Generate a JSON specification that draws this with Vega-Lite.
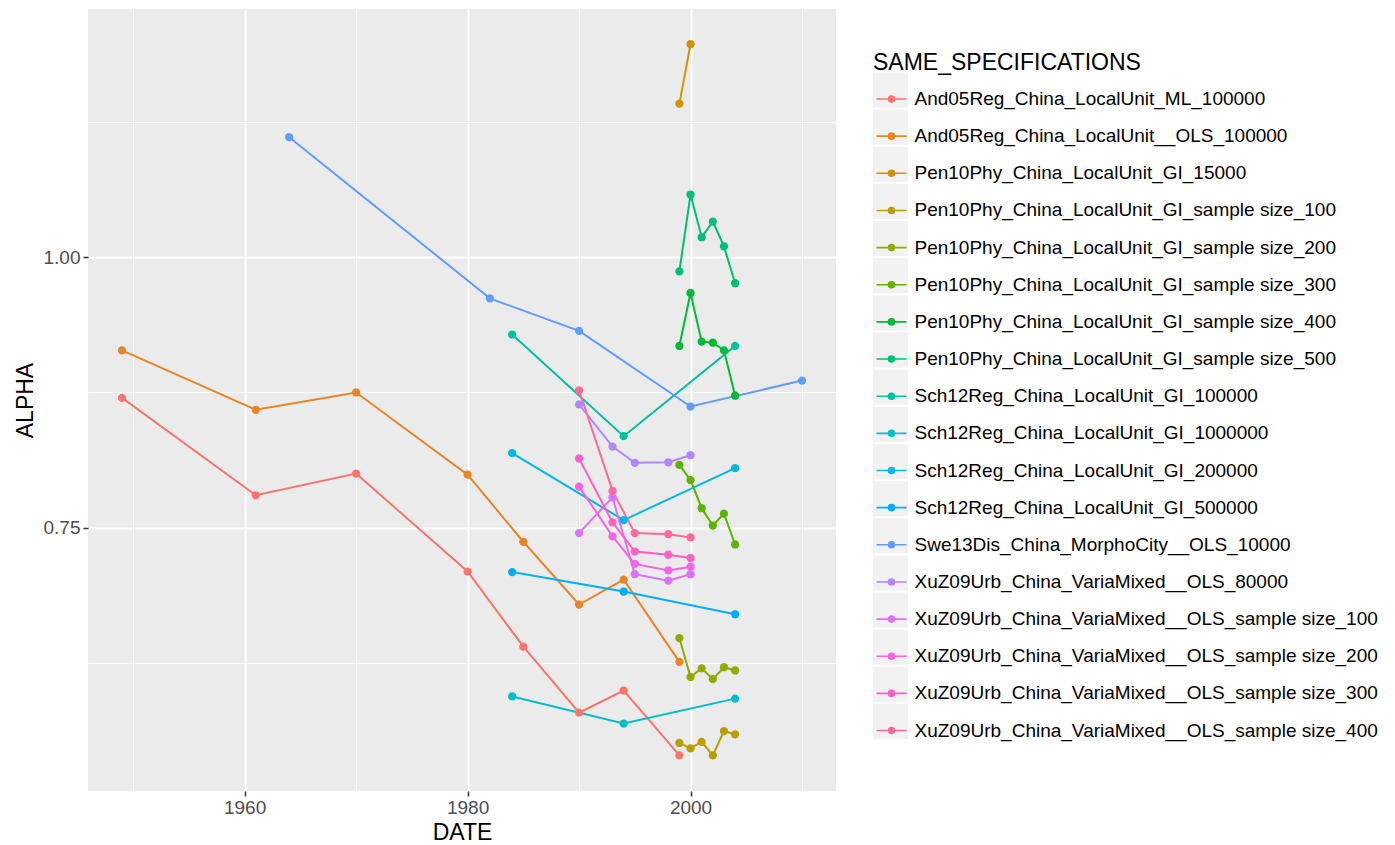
{
  "$schema": "https://vega.github.io/schema/vega-lite/v6.json",
  "width": 748,
  "height": 782,
  "autosize": {"type": "none"},
  "padding": {"left": 88, "top": 9, "right": 559, "bottom": 54},
  "background": "white",
  "config": {
    "font": "Liberation Sans",
    "view": {"fill": "#EBEBEB", "stroke": null}
  },
  "datasets": {
    "series": [
      {"SAME_SPECIFICATIONS": "And05Reg_China_LocalUnit_ML_100000", "DATE": 1949, "ALPHA": 0.870},
      {"SAME_SPECIFICATIONS": "And05Reg_China_LocalUnit_ML_100000", "DATE": 1961, "ALPHA": 0.780},
      {"SAME_SPECIFICATIONS": "And05Reg_China_LocalUnit_ML_100000", "DATE": 1970, "ALPHA": 0.800},
      {"SAME_SPECIFICATIONS": "And05Reg_China_LocalUnit_ML_100000", "DATE": 1980, "ALPHA": 0.7095},
      {"SAME_SPECIFICATIONS": "And05Reg_China_LocalUnit_ML_100000", "DATE": 1985, "ALPHA": 0.640},
      {"SAME_SPECIFICATIONS": "And05Reg_China_LocalUnit_ML_100000", "DATE": 1990, "ALPHA": 0.579},
      {"SAME_SPECIFICATIONS": "And05Reg_China_LocalUnit_ML_100000", "DATE": 1994, "ALPHA": 0.5995},
      {"SAME_SPECIFICATIONS": "And05Reg_China_LocalUnit_ML_100000", "DATE": 1999, "ALPHA": 0.5395},
      {"SAME_SPECIFICATIONS": "And05Reg_China_LocalUnit__OLS_100000", "DATE": 1949, "ALPHA": 0.914},
      {"SAME_SPECIFICATIONS": "And05Reg_China_LocalUnit__OLS_100000", "DATE": 1961, "ALPHA": 0.859},
      {"SAME_SPECIFICATIONS": "And05Reg_China_LocalUnit__OLS_100000", "DATE": 1970, "ALPHA": 0.875},
      {"SAME_SPECIFICATIONS": "And05Reg_China_LocalUnit__OLS_100000", "DATE": 1980, "ALPHA": 0.799},
      {"SAME_SPECIFICATIONS": "And05Reg_China_LocalUnit__OLS_100000", "DATE": 1985, "ALPHA": 0.737},
      {"SAME_SPECIFICATIONS": "And05Reg_China_LocalUnit__OLS_100000", "DATE": 1990, "ALPHA": 0.679},
      {"SAME_SPECIFICATIONS": "And05Reg_China_LocalUnit__OLS_100000", "DATE": 1994, "ALPHA": 0.702},
      {"SAME_SPECIFICATIONS": "And05Reg_China_LocalUnit__OLS_100000", "DATE": 1999, "ALPHA": 0.626},
      {"SAME_SPECIFICATIONS": "Pen10Phy_China_LocalUnit_GI_15000", "DATE": 1999, "ALPHA": 1.142},
      {"SAME_SPECIFICATIONS": "Pen10Phy_China_LocalUnit_GI_15000", "DATE": 2000, "ALPHA": 1.197},
      {"SAME_SPECIFICATIONS": "Pen10Phy_China_LocalUnit_GI_sample size_100", "DATE": 1999, "ALPHA": 0.551},
      {"SAME_SPECIFICATIONS": "Pen10Phy_China_LocalUnit_GI_sample size_100", "DATE": 2000, "ALPHA": 0.546},
      {"SAME_SPECIFICATIONS": "Pen10Phy_China_LocalUnit_GI_sample size_100", "DATE": 2001, "ALPHA": 0.552},
      {"SAME_SPECIFICATIONS": "Pen10Phy_China_LocalUnit_GI_sample size_100", "DATE": 2002, "ALPHA": 0.5395},
      {"SAME_SPECIFICATIONS": "Pen10Phy_China_LocalUnit_GI_sample size_100", "DATE": 2003, "ALPHA": 0.562},
      {"SAME_SPECIFICATIONS": "Pen10Phy_China_LocalUnit_GI_sample size_100", "DATE": 2004, "ALPHA": 0.559},
      {"SAME_SPECIFICATIONS": "Pen10Phy_China_LocalUnit_GI_sample size_200", "DATE": 1999, "ALPHA": 0.648},
      {"SAME_SPECIFICATIONS": "Pen10Phy_China_LocalUnit_GI_sample size_200", "DATE": 2000, "ALPHA": 0.612},
      {"SAME_SPECIFICATIONS": "Pen10Phy_China_LocalUnit_GI_sample size_200", "DATE": 2001, "ALPHA": 0.620},
      {"SAME_SPECIFICATIONS": "Pen10Phy_China_LocalUnit_GI_sample size_200", "DATE": 2002, "ALPHA": 0.610},
      {"SAME_SPECIFICATIONS": "Pen10Phy_China_LocalUnit_GI_sample size_200", "DATE": 2003, "ALPHA": 0.621},
      {"SAME_SPECIFICATIONS": "Pen10Phy_China_LocalUnit_GI_sample size_200", "DATE": 2004, "ALPHA": 0.618},
      {"SAME_SPECIFICATIONS": "Pen10Phy_China_LocalUnit_GI_sample size_300", "DATE": 1999, "ALPHA": 0.808},
      {"SAME_SPECIFICATIONS": "Pen10Phy_China_LocalUnit_GI_sample size_300", "DATE": 2000, "ALPHA": 0.794},
      {"SAME_SPECIFICATIONS": "Pen10Phy_China_LocalUnit_GI_sample size_300", "DATE": 2001, "ALPHA": 0.768},
      {"SAME_SPECIFICATIONS": "Pen10Phy_China_LocalUnit_GI_sample size_300", "DATE": 2002, "ALPHA": 0.752},
      {"SAME_SPECIFICATIONS": "Pen10Phy_China_LocalUnit_GI_sample size_300", "DATE": 2003, "ALPHA": 0.763},
      {"SAME_SPECIFICATIONS": "Pen10Phy_China_LocalUnit_GI_sample size_300", "DATE": 2004, "ALPHA": 0.7345},
      {"SAME_SPECIFICATIONS": "Pen10Phy_China_LocalUnit_GI_sample size_400", "DATE": 1999, "ALPHA": 0.918},
      {"SAME_SPECIFICATIONS": "Pen10Phy_China_LocalUnit_GI_sample size_400", "DATE": 2000, "ALPHA": 0.967},
      {"SAME_SPECIFICATIONS": "Pen10Phy_China_LocalUnit_GI_sample size_400", "DATE": 2001, "ALPHA": 0.922},
      {"SAME_SPECIFICATIONS": "Pen10Phy_China_LocalUnit_GI_sample size_400", "DATE": 2002, "ALPHA": 0.921},
      {"SAME_SPECIFICATIONS": "Pen10Phy_China_LocalUnit_GI_sample size_400", "DATE": 2003, "ALPHA": 0.914},
      {"SAME_SPECIFICATIONS": "Pen10Phy_China_LocalUnit_GI_sample size_400", "DATE": 2004, "ALPHA": 0.872},
      {"SAME_SPECIFICATIONS": "Pen10Phy_China_LocalUnit_GI_sample size_500", "DATE": 1999, "ALPHA": 0.987},
      {"SAME_SPECIFICATIONS": "Pen10Phy_China_LocalUnit_GI_sample size_500", "DATE": 2000, "ALPHA": 1.058},
      {"SAME_SPECIFICATIONS": "Pen10Phy_China_LocalUnit_GI_sample size_500", "DATE": 2001, "ALPHA": 1.0185},
      {"SAME_SPECIFICATIONS": "Pen10Phy_China_LocalUnit_GI_sample size_500", "DATE": 2002, "ALPHA": 1.033},
      {"SAME_SPECIFICATIONS": "Pen10Phy_China_LocalUnit_GI_sample size_500", "DATE": 2003, "ALPHA": 1.010},
      {"SAME_SPECIFICATIONS": "Pen10Phy_China_LocalUnit_GI_sample size_500", "DATE": 2004, "ALPHA": 0.976},
      {"SAME_SPECIFICATIONS": "Sch12Reg_China_LocalUnit_GI_100000", "DATE": 1984, "ALPHA": 0.9286},
      {"SAME_SPECIFICATIONS": "Sch12Reg_China_LocalUnit_GI_100000", "DATE": 1994, "ALPHA": 0.8346},
      {"SAME_SPECIFICATIONS": "Sch12Reg_China_LocalUnit_GI_100000", "DATE": 2004, "ALPHA": 0.918},
      {"SAME_SPECIFICATIONS": "Sch12Reg_China_LocalUnit_GI_1000000", "DATE": 1984, "ALPHA": 0.594},
      {"SAME_SPECIFICATIONS": "Sch12Reg_China_LocalUnit_GI_1000000", "DATE": 1994, "ALPHA": 0.569},
      {"SAME_SPECIFICATIONS": "Sch12Reg_China_LocalUnit_GI_1000000", "DATE": 2004, "ALPHA": 0.592},
      {"SAME_SPECIFICATIONS": "Sch12Reg_China_LocalUnit_GI_200000", "DATE": 1984, "ALPHA": 0.819},
      {"SAME_SPECIFICATIONS": "Sch12Reg_China_LocalUnit_GI_200000", "DATE": 1994, "ALPHA": 0.757},
      {"SAME_SPECIFICATIONS": "Sch12Reg_China_LocalUnit_GI_200000", "DATE": 2004, "ALPHA": 0.805},
      {"SAME_SPECIFICATIONS": "Sch12Reg_China_LocalUnit_GI_500000", "DATE": 1984, "ALPHA": 0.709},
      {"SAME_SPECIFICATIONS": "Sch12Reg_China_LocalUnit_GI_500000", "DATE": 1994, "ALPHA": 0.691},
      {"SAME_SPECIFICATIONS": "Sch12Reg_China_LocalUnit_GI_500000", "DATE": 2004, "ALPHA": 0.670},
      {"SAME_SPECIFICATIONS": "Swe13Dis_China_MorphoCity__OLS_10000", "DATE": 1964, "ALPHA": 1.111},
      {"SAME_SPECIFICATIONS": "Swe13Dis_China_MorphoCity__OLS_10000", "DATE": 1982, "ALPHA": 0.962},
      {"SAME_SPECIFICATIONS": "Swe13Dis_China_MorphoCity__OLS_10000", "DATE": 1990, "ALPHA": 0.932},
      {"SAME_SPECIFICATIONS": "Swe13Dis_China_MorphoCity__OLS_10000", "DATE": 2000, "ALPHA": 0.862},
      {"SAME_SPECIFICATIONS": "Swe13Dis_China_MorphoCity__OLS_10000", "DATE": 2010, "ALPHA": 0.886},
      {"SAME_SPECIFICATIONS": "XuZ09Urb_China_VariaMixed__OLS_80000", "DATE": 1990, "ALPHA": 0.864},
      {"SAME_SPECIFICATIONS": "XuZ09Urb_China_VariaMixed__OLS_80000", "DATE": 1993, "ALPHA": 0.825},
      {"SAME_SPECIFICATIONS": "XuZ09Urb_China_VariaMixed__OLS_80000", "DATE": 1995, "ALPHA": 0.810},
      {"SAME_SPECIFICATIONS": "XuZ09Urb_China_VariaMixed__OLS_80000", "DATE": 1998, "ALPHA": 0.8105},
      {"SAME_SPECIFICATIONS": "XuZ09Urb_China_VariaMixed__OLS_80000", "DATE": 2000, "ALPHA": 0.817},
      {"SAME_SPECIFICATIONS": "XuZ09Urb_China_VariaMixed__OLS_sample size_100", "DATE": 1990, "ALPHA": 0.745},
      {"SAME_SPECIFICATIONS": "XuZ09Urb_China_VariaMixed__OLS_sample size_100", "DATE": 1993, "ALPHA": 0.778},
      {"SAME_SPECIFICATIONS": "XuZ09Urb_China_VariaMixed__OLS_sample size_100", "DATE": 1995, "ALPHA": 0.707},
      {"SAME_SPECIFICATIONS": "XuZ09Urb_China_VariaMixed__OLS_sample size_100", "DATE": 1998, "ALPHA": 0.701},
      {"SAME_SPECIFICATIONS": "XuZ09Urb_China_VariaMixed__OLS_sample size_100", "DATE": 2000, "ALPHA": 0.707},
      {"SAME_SPECIFICATIONS": "XuZ09Urb_China_VariaMixed__OLS_sample size_200", "DATE": 1990, "ALPHA": 0.788},
      {"SAME_SPECIFICATIONS": "XuZ09Urb_China_VariaMixed__OLS_sample size_200", "DATE": 1993, "ALPHA": 0.742},
      {"SAME_SPECIFICATIONS": "XuZ09Urb_China_VariaMixed__OLS_sample size_200", "DATE": 1995, "ALPHA": 0.7165},
      {"SAME_SPECIFICATIONS": "XuZ09Urb_China_VariaMixed__OLS_sample size_200", "DATE": 1998, "ALPHA": 0.7105},
      {"SAME_SPECIFICATIONS": "XuZ09Urb_China_VariaMixed__OLS_sample size_200", "DATE": 2000, "ALPHA": 0.714},
      {"SAME_SPECIFICATIONS": "XuZ09Urb_China_VariaMixed__OLS_sample size_300", "DATE": 1990, "ALPHA": 0.814},
      {"SAME_SPECIFICATIONS": "XuZ09Urb_China_VariaMixed__OLS_sample size_300", "DATE": 1993, "ALPHA": 0.755},
      {"SAME_SPECIFICATIONS": "XuZ09Urb_China_VariaMixed__OLS_sample size_300", "DATE": 1995, "ALPHA": 0.728},
      {"SAME_SPECIFICATIONS": "XuZ09Urb_China_VariaMixed__OLS_sample size_300", "DATE": 1998, "ALPHA": 0.725},
      {"SAME_SPECIFICATIONS": "XuZ09Urb_China_VariaMixed__OLS_sample size_300", "DATE": 2000, "ALPHA": 0.722},
      {"SAME_SPECIFICATIONS": "XuZ09Urb_China_VariaMixed__OLS_sample size_400", "DATE": 1990, "ALPHA": 0.877},
      {"SAME_SPECIFICATIONS": "XuZ09Urb_China_VariaMixed__OLS_sample size_400", "DATE": 1993, "ALPHA": 0.784},
      {"SAME_SPECIFICATIONS": "XuZ09Urb_China_VariaMixed__OLS_sample size_400", "DATE": 1995, "ALPHA": 0.745},
      {"SAME_SPECIFICATIONS": "XuZ09Urb_China_VariaMixed__OLS_sample size_400", "DATE": 1998, "ALPHA": 0.744},
      {"SAME_SPECIFICATIONS": "XuZ09Urb_China_VariaMixed__OLS_sample size_400", "DATE": 2000, "ALPHA": 0.741}
    ],
    "keys": [
      {"KEY": "And05Reg_China_LocalUnit_ML_100000"},
      {"KEY": "And05Reg_China_LocalUnit__OLS_100000"},
      {"KEY": "Pen10Phy_China_LocalUnit_GI_15000"},
      {"KEY": "Pen10Phy_China_LocalUnit_GI_sample size_100"},
      {"KEY": "Pen10Phy_China_LocalUnit_GI_sample size_200"},
      {"KEY": "Pen10Phy_China_LocalUnit_GI_sample size_300"},
      {"KEY": "Pen10Phy_China_LocalUnit_GI_sample size_400"},
      {"KEY": "Pen10Phy_China_LocalUnit_GI_sample size_500"},
      {"KEY": "Sch12Reg_China_LocalUnit_GI_100000"},
      {"KEY": "Sch12Reg_China_LocalUnit_GI_1000000"},
      {"KEY": "Sch12Reg_China_LocalUnit_GI_200000"},
      {"KEY": "Sch12Reg_China_LocalUnit_GI_500000"},
      {"KEY": "Swe13Dis_China_MorphoCity__OLS_10000"},
      {"KEY": "XuZ09Urb_China_VariaMixed__OLS_80000"},
      {"KEY": "XuZ09Urb_China_VariaMixed__OLS_sample size_100"},
      {"KEY": "XuZ09Urb_China_VariaMixed__OLS_sample size_200"},
      {"KEY": "XuZ09Urb_China_VariaMixed__OLS_sample size_300"},
      {"KEY": "XuZ09Urb_China_VariaMixed__OLS_sample size_400"}
    ]
  },
  "layer": [
    {
      "data": {"name": "keys"},
      "mark": {"type": "square", "opacity": 0, "size": 1},
      "encoding": {
        "fill": {
          "field": "KEY",
          "type": "nominal",
          "scale": {"range": ["#F2F2F2"]},
          "legend": {
            "orient": "none",
            "legendX": 785,
            "legendY": 63.5,
            "zindex": 0,
            "title": null,
            "labelFontSize": 19,
            "labelExpr": "''",
            "symbolType": "M-1,-1H1V1H-1Z",
            "symbolSize": 1225,
            "symbolStrokeWidth": 0,
            "symbolOpacity": 1,
            "rowPadding": 2.15,
            "encode": {
              "symbols": {"update": {"fill": {"value": "#F2F2F2"}, "opacity": {"value": 1}, "strokeWidth": {"value": 0}}}
            }
          }
        }
      }
    },
    {
      "data": {"name": "series"},
      "mark": {"type": "line", "strokeWidth": 2},
      "encoding": {
        "x": {"field": "DATE", "type": "quantitative"},
        "y": {"field": "ALPHA", "type": "quantitative"},
        "color": {"field": "SAME_SPECIFICATIONS", "type": "nominal"}
      }
    },
    {
      "data": {"name": "series"},
      "mark": {"type": "point", "filled": true, "size": 68, "opacity": 1},
      "encoding": {
        "x": {
          "field": "DATE",
          "type": "quantitative",
          "scale": {"domain": [1945.95, 2013.05], "nice": false, "zero": false},
          "axis": {
            "title": "DATE",
            "values": [1950, 1960, 1970, 1980, 1990, 2000, 2010],
            "format": "d",
            "labelExpr": "datum.value % 20 == 0 ? datum.label : ''",
            "labelOverlap": false,
            "labelFlush": false,
            "domain": false,
            "grid": true,
            "gridColor": "white",
            "gridWidth": {"condition": {"test": "datum.value % 20 == 0", "value": 1.8}, "value": 0.9},
            "tickColor": "#333333",
            "tickWidth": 1.5,
            "tickSize": 5,
            "tickOpacity": {"condition": {"test": "datum.value % 20 == 0", "value": 1}, "value": 0},
            "labelFontSize": 19,
            "labelColor": "#4D4D4D",
            "labelPadding": 2,
            "titleFontSize": 23,
            "titleColor": "black",
            "titleFontWeight": "normal",
            "titlePadding": 4
          }
        },
        "y": {
          "field": "ALPHA",
          "type": "quantitative",
          "scale": {"domain": [0.5066, 1.2295], "nice": false, "zero": false},
          "axis": {
            "title": "ALPHA",
            "values": [0.625, 0.75, 0.875, 1, 1.125],
            "labelExpr": "datum.value == 0.75 || datum.value == 1 ? format(datum.value, '.2f') : ''",
            "labelOverlap": false,
            "labelFlush": false,
            "domain": false,
            "grid": true,
            "gridColor": "white",
            "gridWidth": {"condition": {"test": "datum.value == 0.75 || datum.value == 1", "value": 1.8}, "value": 0.9},
            "tickColor": "#333333",
            "tickWidth": 1.5,
            "tickSize": 5,
            "tickOpacity": {"condition": {"test": "datum.value == 0.75 || datum.value == 1", "value": 1}, "value": 0},
            "labelFontSize": 19,
            "labelColor": "#4D4D4D",
            "labelPadding": 3,
            "titleFontSize": 23,
            "titleColor": "black",
            "titleFontWeight": "normal",
            "titlePadding": 6
          }
        },
        "color": {
          "field": "SAME_SPECIFICATIONS",
          "type": "nominal",
          "scale": {
            "domain": [
              "And05Reg_China_LocalUnit_ML_100000",
              "And05Reg_China_LocalUnit__OLS_100000",
              "Pen10Phy_China_LocalUnit_GI_15000",
              "Pen10Phy_China_LocalUnit_GI_sample size_100",
              "Pen10Phy_China_LocalUnit_GI_sample size_200",
              "Pen10Phy_China_LocalUnit_GI_sample size_300",
              "Pen10Phy_China_LocalUnit_GI_sample size_400",
              "Pen10Phy_China_LocalUnit_GI_sample size_500",
              "Sch12Reg_China_LocalUnit_GI_100000",
              "Sch12Reg_China_LocalUnit_GI_1000000",
              "Sch12Reg_China_LocalUnit_GI_200000",
              "Sch12Reg_China_LocalUnit_GI_500000",
              "Swe13Dis_China_MorphoCity__OLS_10000",
              "XuZ09Urb_China_VariaMixed__OLS_80000",
              "XuZ09Urb_China_VariaMixed__OLS_sample size_100",
              "XuZ09Urb_China_VariaMixed__OLS_sample size_200",
              "XuZ09Urb_China_VariaMixed__OLS_sample size_300",
              "XuZ09Urb_China_VariaMixed__OLS_sample size_400"
            ],
            "range": ["#F8766D", "#E88526", "#D39200", "#B79F00", "#93AA00", "#5EB300", "#00BA38", "#00BF74", "#00C19F", "#00BFC4", "#00B9E3", "#00ADFA", "#619CFF", "#AE87FF", "#DB72FB", "#F564E3", "#FF61C3", "#FF699C"]
          },
          "legend": {
            "orient": "none",
            "legendX": 785,
            "legendY": 43,
            "zindex": 1,
            "title": "SAME_SPECIFICATIONS",
            "titleFontSize": 23,
            "titleColor": "black",
            "titleFontWeight": "normal",
            "titleLimit": 700,
            "titlePadding": 8,
            "labelFontSize": 19,
            "labelColor": "black",
            "labelLimit": 700,
            "labelOffset": 7,
            "symbolOffset": 2.5,
            "symbolType": "M-1,0L1,0M-0.2,0A0.2,0.2,0,1,0,0.2,0A0.2,0.2,0,1,0,-0.2,0Z",
            "symbolSize": 900,
            "symbolStrokeWidth": 1.6,
            "rowPadding": 11.15,
            "encode": {
              "symbols": {
                "update": {
                  "fill": {"scale": "color", "field": "value"},
                  "stroke": {"scale": "color", "field": "value"},
                  "opacity": {"value": 1}
                }
              }
            }
          }
        }
      }
    }
  ]
}
